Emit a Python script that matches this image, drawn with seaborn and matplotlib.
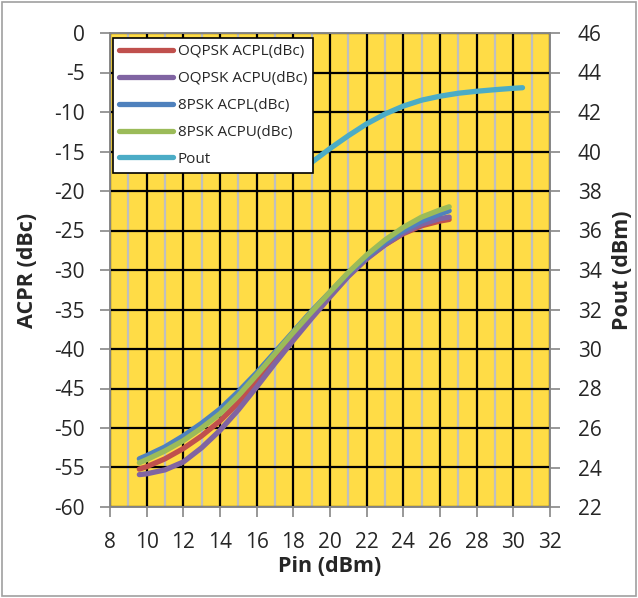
import numpy as np
import pandas as pd
import matplotlib.pyplot as plt
import seaborn as sns
from matplotlib.ticker import MultipleLocator

pin = [9.6, 10, 11, 12, 13, 14, 15, 16, 17, 18, 19, 20, 21, 22, 23, 24, 25, 26, 26.5]
oqpsk_acpl = [-55.2, -54.9, -53.9, -52.6, -51.0, -49.1, -46.8, -44.2, -41.4, -38.6,
              -35.8, -33.2, -30.7, -28.5, -26.8, -25.4, -24.4, -23.8, -23.6]
oqpsk_acpu = [-55.9, -55.8, -55.3, -54.3, -52.5, -50.3, -47.7, -44.8, -41.8, -38.9,
              -36.1, -33.4, -30.8, -28.6, -26.8, -25.3, -24.2, -23.5, -23.3]
psk8_acpl = [-53.9, -53.5, -52.4, -51.0, -49.4, -47.6, -45.4, -43.0, -40.4, -37.8,
             -35.2, -32.8, -30.4, -28.3, -26.5, -25.0, -23.8, -22.9, -22.5]
psk8_acpu = [-54.4, -54.0, -52.9, -51.6, -50.0, -48.2, -45.9, -43.3, -40.6, -37.9,
             -35.3, -32.8, -30.3, -28.1, -26.2, -24.6, -23.3, -22.4, -22.0]

pin_pout = [19, 20, 21, 22, 23, 24, 25, 26, 27, 28, 29, 30, 30.5]
pout = [39.45, 40.15, 40.8, 41.4, 41.9, 42.3, 42.6, 42.8, 42.95, 43.05, 43.13, 43.2, 43.23]

names = ["OQPSK ACPL(dBc)", "OQPSK ACPU(dBc)", "8PSK ACPL(dBc)", "8PSK ACPU(dBc)"]
colors = ["#C0504D", "#8064A2", "#4F81BD", "#9BBB59"]

df = pd.DataFrame({
    "Pin": pin * 4,
    "ACPR": oqpsk_acpl + oqpsk_acpu + psk8_acpl + psk8_acpu,
    "series": np.repeat(names, len(pin)),
})
df_pout = pd.DataFrame({"Pin": pin_pout, "Pout": pout})

sns.set_style("ticks")
plt.rcParams["font.family"] = ["Open Sans", "DejaVu Sans"]
plt.rcParams["axes.unicode_minus"] = False

fig = plt.figure(figsize=(6.38, 5.98), dpi=100)
ax = fig.add_axes([110 / 638, 1 - 507 / 598, 440 / 638, 474 / 598])
ax.set_facecolor("#FFDC46")

sns.lineplot(data=df, x="Pin", y="ACPR", hue="series", palette=colors,
             sort=False, lw=3.8, ax=ax, legend=False, zorder=3)

ax2 = ax.twinx()
sns.lineplot(data=df_pout, x="Pin", y="Pout", color="#4BACC6", sort=False,
             lw=3.8, ax=ax2, legend=False)

ax.set_xlim(8, 32)
ax.set_ylim(-60, 0)
ax2.set_ylim(22, 46)
ax.xaxis.set_major_locator(MultipleLocator(2))
ax.xaxis.set_minor_locator(MultipleLocator(1))
ax.yaxis.set_major_locator(MultipleLocator(5))
ax2.yaxis.set_major_locator(MultipleLocator(2))

ax.set_axisbelow(True)
ax.grid(which="major", axis="both", color="black", lw=1.6)
ax.grid(which="minor", axis="x", color="#BFBFBF", lw=1.6)

for a in (ax, ax2):
    for s in a.spines.values():
        s.set_color("#868686")
        s.set_linewidth(1.2)
    a.tick_params(which="major", length=7, width=1.2, color="#868686",
                  labelsize=15, pad=11)
    a.tick_params(which="minor", length=0)
ax.tick_params(axis="x", pad=11)
ax2.tick_params(axis="y", pad=13)

ax.set_xlabel("Pin (dBm)", fontsize=15.5, fontweight="bold")
ax.set_ylabel("ACPR (dBc)", fontsize=15.5, fontweight="bold")
ax2.set_ylabel("Pout (dBm)", fontsize=15.5, fontweight="bold")
ax.xaxis.set_label_coords(0.5, -(556 - 507) / 474)
ax.yaxis.set_label_coords(-(110 - 38) / 440, 0.5)
ax2.yaxis.set_label_coords(1 + (612 - 550) / 440, 0.5)

handles = [plt.Line2D([], [], color=c, lw=3.8, solid_capstyle="round") for c in colors]
handles.append(plt.Line2D([], [], color="#4BACC6", lw=3.8, solid_capstyle="round"))
leg = ax2.legend(handles, names + ["Pout"], loc="upper left",
                 bbox_to_anchor=(3 / 440, 1 - 5 / 474), fontsize=11,
                 frameon=True, fancybox=False, edgecolor="black",
                 framealpha=1, handlelength=3.5, labelspacing=0.78,
                 borderpad=0.4, handletextpad=0.35, borderaxespad=0)
leg.get_frame().set_linewidth(1.2)

fig.patches.append(plt.Rectangle((0.003, 0.003), 0.994, 0.994, transform=fig.transFigure,
                                 fill=False, edgecolor="#A0A0A0", lw=1.2))

plt.savefig("out.png", dpi=100)
